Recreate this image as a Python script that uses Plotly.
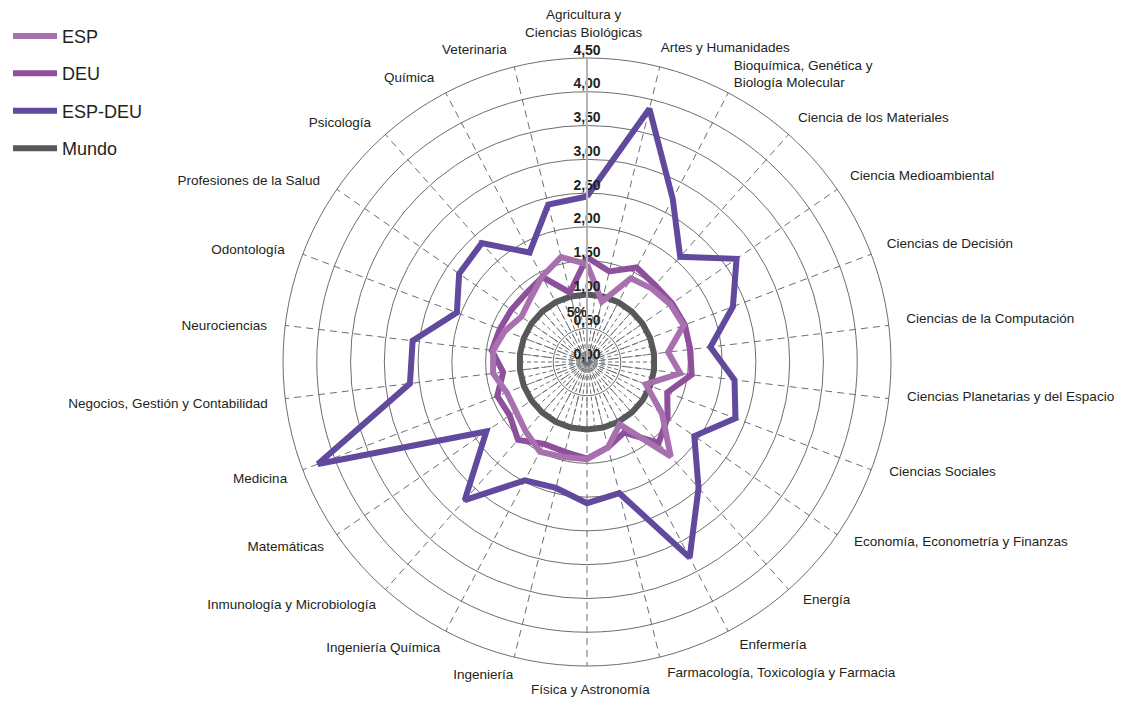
import plotly.graph_objects as go

categories = [
    "Agricultura y<br>Ciencias Biológicas", "Artes y Humanidades",
    "Bioquímica, Genética y<br>Biología Molecular", "Ciencia de los Materiales",
    "Ciencia Medioambiental", "Ciencias de Decisión", "Ciencias de la Computación",
    "Ciencias Planetarias y del Espacio", "Ciencias Sociales",
    "Economía, Econometría y Finanzas", "Energía", "Enfermería",
    "Farmacología, Toxicología y Farmacia", "Física y Astronomía", "Ingeniería",
    "Ingeniería Química", "Inmunología y Microbiología", "Matemáticas", "Medicina",
    "Negocios, Gestión y Contabilidad", "Neurociencias", "Odontología",
    "Profesiones de la Salud", "Psicología", "Química", "Veterinaria",
]

esp = [1.45, 0.92, 1.40, 1.45, 1.50, 1.53, 1.21, 1.39, 0.93, 1.35, 1.87, 1.04, 1.30,
       1.44, 1.45, 1.50, 1.37, 1.28, 1.27, 1.40, 1.40, 1.30, 1.18, 1.26, 1.43, 1.60]
deu = [1.55, 1.38, 1.58, 1.52, 1.53, 1.55, 1.54, 1.56, 1.27, 1.45, 1.60, 1.18, 1.30,
       1.43, 1.37, 1.37, 1.54, 1.39, 1.42, 1.25, 1.42, 1.38, 1.36, 1.36, 1.42, 1.06]
esp_deu = [2.45, 3.86, 2.73, 2.08, 2.69, 2.31, 1.84, 2.20, 2.35, 1.93, 2.49, 3.27, 2.00,
           2.09, 1.92, 1.98, 2.73, 1.81, 4.26, 2.64, 2.60, 2.06, 2.30, 2.35, 1.83, 2.40]
mundo = [1.0] * len(categories)

radial_ticks = [0, 0.5, 1, 1.5, 2, 2.5, 3, 3.5, 4, 4.5]
radial_labels = ["0,00", "0,50", "1,00", "1,50", "2,00", "2,50", "3,00", "3,50", "4,00", "4,50"]

colors = {"ESP": "#a970af", "DEU": "#8e509d", "ESP-DEU": "#614a9e", "Mundo": "#57585a"}
FONT = "Liberation Sans, Arial, sans-serif"


def closed(vals):
    return vals + vals[:1]


def label_pos(i, n):
    ang = 360 * i / n
    if ang == 0:
        return "top center"
    if ang == 180:
        return "bottom center"
    return "middle right" if ang < 180 else "middle left"


fig = go.Figure()

# little dense spokes near the centre (drawn by a second, smaller polar)
fig.add_trace(go.Scatterpolar(r=[0], theta=[0], mode="markers", marker_opacity=0,
                              showlegend=False, hoverinfo="skip", subplot="polar"))

series = [("Mundo", mundo, 4), ("DEU", deu, 2), ("ESP", esp, 1), ("ESP-DEU", esp_deu, 3)]
for name, vals, rank in series:
    fig.add_trace(go.Scatterpolar(
        r=closed(vals), theta=closed(categories), mode="lines", name=name,
        line=dict(color=colors[name], width=6), legendgroup=name, legendrank=rank,
        subplot="polar2",
    ))

# radial tick labels sitting on the vertical axis
fig.add_trace(go.Scatterpolar(
    r=radial_ticks, theta=[categories[0]] * len(radial_ticks), mode="text",
    text=radial_labels, textposition="top center", showlegend=False, hoverinfo="skip",
    textfont=dict(family=FONT, size=14, color="#231f20", weight="bold"),
    subplot="polar2",
))
fig.add_trace(go.Scatterpolar(
    r=[0.62], theta=[categories[0]], mode="text", text=["5%"], textposition="top left",
    showlegend=False, hoverinfo="skip",
    textfont=dict(family=FONT, size=14, color="#231f20", weight="bold"),
    subplot="polar2",
))

# category labels around the outside, centred on the end of each spoke
fig.add_trace(go.Scatterpolar(
    r=[1] * len(categories), theta=categories, mode="text", text=categories,
    textposition=[label_pos(i, len(categories)) for i in range(len(categories))],
    textfont=dict(family=FONT, size=13.5, color="#231f20"),
    showlegend=False, hoverinfo="skip", cliponaxis=False, subplot="polar3",
))

# page body has an 8px margin, so work in figure pixels shifted by it
W, H = 1118, 696
cx, cy, R = 579, 354, 304
rin = 68
rlab = 322


def dom(rad):
    return dict(x=[(cx - rad) / W, (cx + rad) / W],
                y=[1 - (cy + rad) / H, 1 - (cy - rad) / H])


fig.update_layout(
    width=W, height=H,
    margin=dict(l=0, r=0, t=0, b=0),
    paper_bgcolor="white",
    font=dict(family=FONT, size=14, color="#231f20"),
    legend=dict(x=0.0, y=0.986, xanchor="left", yanchor="top",
                font=dict(size=18, color="#231f20"), tracegroupgap=11,
                itemwidth=44),
    polar=dict(
        domain=dom(rin),
        bgcolor="rgba(0,0,0,0)",
        angularaxis=dict(type="linear", dtick=360 / 52, rotation=90, direction="clockwise",
                         showticklabels=False, ticks="", showline=False,
                         gridcolor="#6d6e71", gridwidth=1, griddash="4px,3px"),
        radialaxis=dict(visible=False, range=[0, 1]),
    ),
    polar2=dict(
        domain=dom(R),
        bgcolor="rgba(0,0,0,0)",
        angularaxis=dict(
            type="category", categoryorder="array", categoryarray=categories,
            rotation=90, direction="clockwise",
            showline=True, linecolor="#6d6e71", linewidth=1,
            gridcolor="#6d6e71", gridwidth=1, griddash="7px,5px",
            showticklabels=False, ticks="",
        ),
        radialaxis=dict(
            range=[0, 4.5], tick0=0, dtick=0.5, angle=90,
            showticklabels=False, ticks="",
            showline=True, linecolor="#b3b3b3", linewidth=2,
            gridcolor="#6d6e71", gridwidth=1,
        ),
    ),
    polar3=dict(
        domain=dom(rlab),
        bgcolor="rgba(0,0,0,0)",
        angularaxis=dict(
            type="category", categoryorder="array", categoryarray=categories,
            rotation=90.6, direction="clockwise",
            showline=False, showgrid=False, showticklabels=False, ticks="",
        ),
        radialaxis=dict(visible=False, range=[0, 1]),
    ),
)

fig.write_html("out.html")
